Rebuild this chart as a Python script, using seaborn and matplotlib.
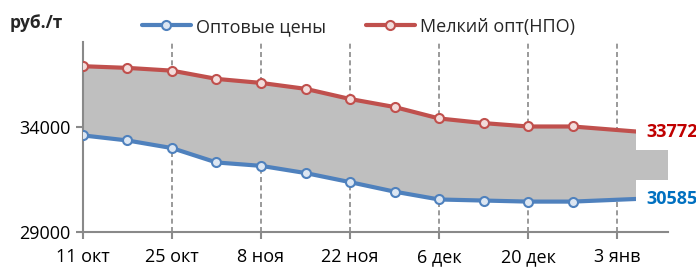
import matplotlib
matplotlib.use("Agg")
import matplotlib.pyplot as plt
import seaborn as sns
import pandas as pd

# weekly prices, rub/t
dates = pd.to_datetime([
    "2021-10-11", "2021-10-18", "2021-10-25", "2021-11-01", "2021-11-08",
    "2021-11-15", "2021-11-22", "2021-11-29", "2021-12-06", "2021-12-13",
    "2021-12-20", "2021-12-27", "2022-01-06",
])
opt_prices = [33590, 33350, 32990, 32310, 32150, 31810, 31380, 30930,
              30560, 30510, 30460, 30460, 30585]
npo_prices = [36860, 36780, 36650, 36260, 36070, 35790, 35310, 34930,
              34390, 34170, 34010, 34010, 33772]

tick_dates = pd.to_datetime(["2021-10-11", "2021-10-25", "2021-11-08", "2021-11-22",
                             "2021-12-06", "2021-12-20", "2022-01-03"])
tick_labels = ["11 окт", "25 окт", "8 ноя", "22 ноя", "6 дек", "20 дек", "3 янв"]
x_end = pd.Timestamp("2022-01-11")

sns.set_style("white")
plt.rcParams["font.family"] = ["Open Sans", "Noto Sans", "DejaVu Sans"]

blue = "#4F81BD"
red = "#C0504D"
gray_ax = "#898989"

fig = plt.figure(figsize=(6.96, 2.68), dpi=100)
ax = fig.add_axes([0.119, 0.1325, 0.841, 0.7105])

# shaded band between the two series (extends to the end of the axis)
ax.fill_between(dates, opt_prices, npo_prices, color="#BFBFBF", lw=0, zorder=1)
ax.fill_between([dates[-1], x_end], [opt_prices[-1]] * 2, [npo_prices[-1]] * 2,
                color="#BFBFBF", lw=0, zorder=1)

marks = list(range(len(dates) - 1))
sns.lineplot(x=dates, y=opt_prices, ax=ax, color=blue, lw=3, marker="o", ms=6.5,
             mfc="#DCE6F2", mec=blue, mew=1.5, markevery=marks,
             label="Оптовые цены", zorder=3)
sns.lineplot(x=dates, y=npo_prices, ax=ax, color=red, lw=3, marker="o", ms=6.5,
             mfc="#F2DCDB", mec=red, mew=1.5, markevery=marks,
             label="Мелкий опт(НПО)", zorder=3)

ax.set_xlim(dates[0], x_end)
ax.set_ylim(29000, 38000)
ax.set_yticks([29000, 34000])
ax.set_xticks(tick_dates)
ax.set_xticklabels(tick_labels)
ax.set_xlabel("")
ax.set_ylabel("")

ax.grid(axis="x", color=gray_ax, linestyle=(0, (3, 2)), lw=1.2, zorder=0)
ax.grid(axis="y", visible=False)
for side in ["top", "right"]:
    ax.spines[side].set_visible(False)
for side in ["left", "bottom"]:
    ax.spines[side].set_color(gray_ax)
    ax.spines[side].set_linewidth(1.5)
ax.tick_params(axis="both", which="both", direction="out", length=5, width=1.5,
               color=gray_ax, labelsize=13, labelcolor="black")
ax.tick_params(axis="x", bottom=True, pad=6.5)
ax.tick_params(axis="y", left=True, pad=4)

# end-of-series value labels
ax.annotate(f"{npo_prices[-1]}", xy=(dates[-1], npo_prices[-1]), xytext=(7, 0),
            textcoords="offset points", ha="left", va="center", fontsize=13,
            fontweight="bold", color="#C00000", annotation_clip=False, zorder=4,
            bbox=dict(boxstyle="square,pad=0.55", fc="white", ec="none"))
ax.annotate(f"{opt_prices[-1]}", xy=(dates[-1], opt_prices[-1]), xytext=(7, 0),
            textcoords="offset points", ha="left", va="center", fontsize=13,
            fontweight="bold", color="#0070C0", annotation_clip=False, zorder=4,
            bbox=dict(boxstyle="square,pad=0.55", fc="white", ec="none"))

fig.text(0.014, 0.915, "руб./т", fontsize=12.5, fontweight="bold", ha="left", va="center")

ax.legend(loc="center", bbox_to_anchor=(0.515, 0.900), bbox_transform=fig.transFigure,
          ncol=2, frameon=False, fontsize=13, handlelength=2.7, handletextpad=0.3,
          columnspacing=2.2, borderaxespad=0)

fig.savefig("out.png", dpi=100)
